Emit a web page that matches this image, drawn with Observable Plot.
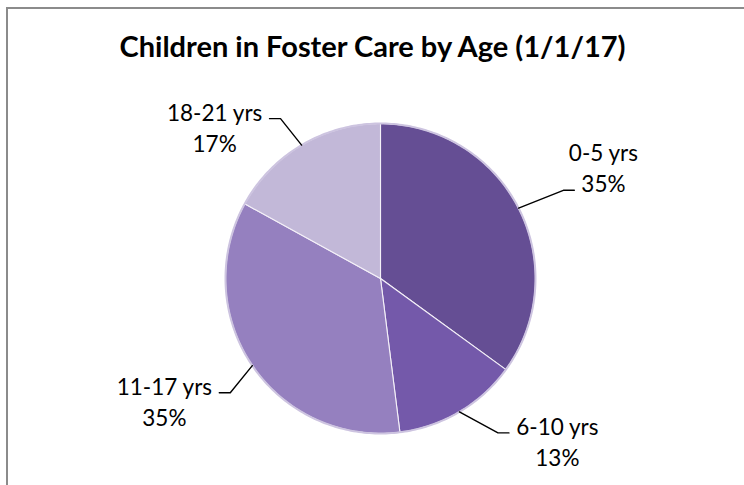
<!DOCTYPE html>
<html>
<head>
<meta charset="utf-8">
<script src="https://cdn.jsdelivr.net/npm/d3@7"></script>
<script src="https://cdn.jsdelivr.net/npm/@observablehq/plot@0.6"></script>
<style>
  html, body { margin: 0; padding: 0; background: #fff; overflow: hidden; }
  #wrap { position: relative; width: 744px; height: 485px; }
  #frame { position: absolute; left: 6px; top: 7px; width: 900px; height: 700px;
           border: 2px solid #8b8b8b; box-sizing: border-box; pointer-events: none; }
  #chart { position: absolute; left: 0; top: 0; }
</style>
</head>
<body>
<div id="wrap"><div id="chart"></div><div id="frame"></div></div>
<script>
// ---- data ----
const title = "Children in Foster Care by Age (1/1/17)";
const categories = ["0-5 yrs", "6-10 yrs", "11-17 yrs", "18-21 yrs"];
const percents = [35, 13, 35, 17];

// ---- styles / layout (kept separate from data) ----
const colors = ["#654e94", "#7459aa", "#9580bf", "#c2b8d8"];
const W = 744, H = 485;
const cx = 380, cy = 278, R = 155;          // pie centre / radius in pixels
const labelFont = "Lato";
const labelSize = 22.5;
// label block placement in polar form (angle clockwise from 12 o'clock, distance in radii)
const labelAngle = [64, 133, 240, 312];
const labelDist = [1.60, 1.56, 1.61, 1.44];
const attachRow = [1, 0, 0, 0];

const px = 1 / R; // one pixel in data units
const xDomain = [-cx / R, (W - cx) / R];
const yDomain = [-(H - cy) / R, cy / R];

const pie = d3.pie().sort(null).value(d => d)(percents);
const rad = d => d * Math.PI / 180;
const polar = (a, r) => ({x: Math.sin(a) * r, y: Math.cos(a) * r});

// slice polygons
const slicePts = [];
pie.forEach((p, i) => {
  slicePts.push({cat: categories[i], x: 0, y: 0});
  const n = Math.max(2, Math.ceil((p.endAngle - p.startAngle) / rad(1)));
  for (let k = 0; k <= n; k++) {
    const a = p.startAngle + (p.endAngle - p.startAngle) * k / n;
    slicePts.push({cat: categories[i], ...polar(a, 1)});
  }
});
// outline
const ring = d3.range(0, 361).map(k => polar(rad(k), 1));

// text measurement
const ctx = document.createElement("canvas").getContext("2d");
ctx.font = `${labelSize}px ${labelFont}`;
const tw = s => ctx.measureText(s).width;

const lineGap = 31; // px between the two label lines
const labels = [];
const leaders = [];
pie.forEach((p, i) => {
  const L = polar(rad(labelAngle[i]), labelDist[i]);
  const lines = [categories[i], percents[i] + "%"];
  labels.push({x: L.x, y: L.y, text: lines.join("\n")});
  const side = L.x >= 0 ? 1 : -1;               // label on right (+1) or left (-1)
  const row = attachRow[i];
  const rowY = L.y + (row === 0 ? lineGap / 2 : -lineGap / 2) * px - 5 * px;
  const p2x = L.x - side * (tw(lines[row]) / 2 + 7) * px;
  const p1x = p2x - side * 11 * px;
  const mid = (p.startAngle + p.endAngle) / 2;
  const P0 = polar(mid, 1);
  leaders.push({cat: categories[i], x: P0.x, y: P0.y});
  leaders.push({cat: categories[i], x: p1x, y: rowY});
  leaders.push({cat: categories[i], x: p2x, y: rowY});
});

const chart = Plot.plot({
  width: W, height: H, margin: 0,
  x: {domain: xDomain, axis: null},
  y: {domain: yDomain, axis: null},
  color: {domain: categories, range: colors},
  style: {background: "transparent", overflow: "visible"},
  marks: [
    Plot.line(slicePts, {x: "x", y: "y", z: "cat", fill: "cat", stroke: "#f4f0f8",
      strokeWidth: 1.1, curve: "linear-closed"}),
    Plot.line(ring, {x: "x", y: "y", stroke: "#cdc4e0", strokeWidth: 2, curve: "linear-closed"}),
    Plot.line(leaders, {x: "x", y: "y", z: "cat", stroke: "#000", strokeWidth: 1.4}),
    Plot.text(labels, {x: "x", y: "y", text: "text", fontSize: labelSize, fontFamily: labelFont,
      lineHeight: lineGap / labelSize, fill: "#000", lineAnchor: "middle", dy: -3}),
    Plot.text([title], {frameAnchor: "top", dy: 47, lineAnchor: "middle", fontSize: 29,
      fontWeight: "bold", fontFamily: labelFont, fill: "#000"})
  ]
});
document.getElementById("chart").appendChild(chart);
</script>
</body>
</html>
